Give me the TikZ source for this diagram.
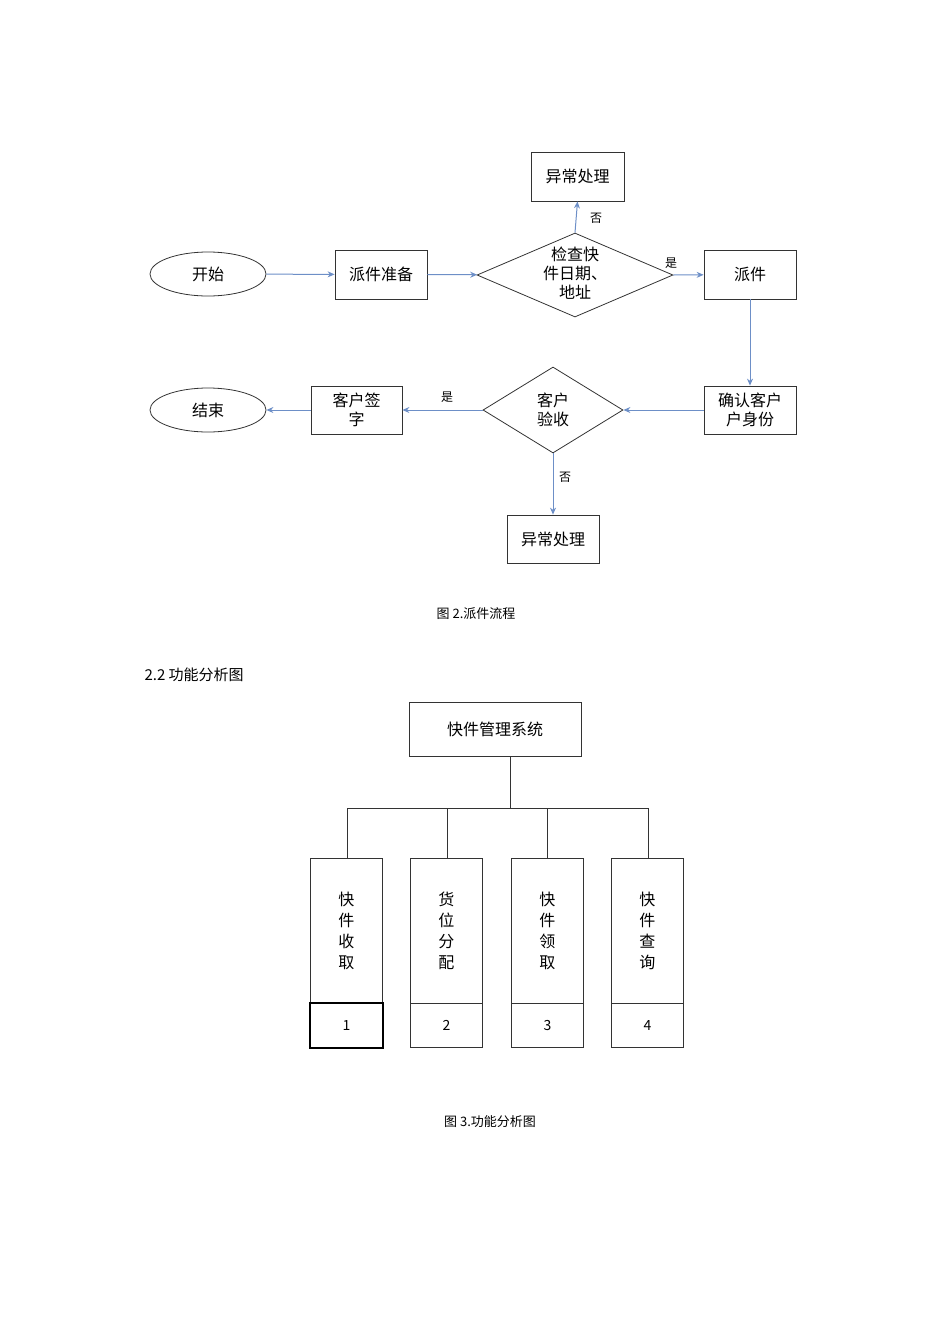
\documentclass[tikz,border=0pt]{standalone}
\usepackage{fontspec}
\setmainfont{Noto Sans CJK SC}
\usetikzlibrary{shapes.geometric,arrows.meta}
\definecolor{fl}{HTML}{6D8FC7}
\tikzset{
 box/.style={draw=black!80,line width=0.8pt,minimum width=92pt,minimum height=49pt,align=center,font=\fontsize{16}{19}\selectfont,inner sep=1pt},
 oval/.style={draw=black!80,line width=0.8pt,ellipse,minimum width=116pt,minimum height=44pt,font=\fontsize{16}{19}\selectfont},
 dia/.style={draw=black!80,line width=0.8pt,diamond,inner sep=0pt,align=center,font=\fontsize{16}{19}\selectfont},
 fa/.style={draw=fl,line width=1pt,-{Stealth[length=7pt,width=6pt]}},
 lab/.style={font=\fontsize{12}{14}\selectfont},
 tbox/.style={draw=black!80,line width=0.8pt,minimum width=72pt,minimum height=145pt,anchor=north west,font=\fontsize{16}{21}\selectfont,align=center},
 nbox/.style={draw=black!80,line width=0.8pt,minimum width=72pt,minimum height=44pt,anchor=north west,font=\fontsize{14}{16}\selectfont},
 ln/.style={draw=black!80,line width=0.8pt}
}
\begin{document}
\begin{tikzpicture}[x=1pt,y=-1pt]
\useasboundingbox (0,0) rectangle (950,1344);
\node[oval] (start) at (208,274) {开始};
\node[box] (prep) at (381,274.5) {派件准备};
\node[draw=black!80,line width=0.8pt,diamond,minimum width=196pt,minimum height=84pt,inner sep=0pt] (d1) at (575,275) {};
\node[align=center,font=\fontsize{16}{19}\selectfont] at (575,273) {检查快\\件日期、\\地址};
\node[box,minimum width=93pt] (ex1) at (577.5,176.5) {异常处理};
\node[box] (send) at (750,274.5) {派件};
\node[box,minimum height=48pt] (conf) at (750,410) {确认客户\\户身份};
\node[draw=black!80,line width=0.8pt,diamond,minimum width=140pt,minimum height=86pt,inner sep=0pt] (d2) at (553,410) {};
\node[align=center,font=\fontsize{16}{19}\selectfont] at (553,410) {客户\\验收};
\node[box,minimum width=91pt,minimum height=48pt] (sign) at (356.5,410) {客户签\\字};
\node[oval] (end) at (208,410) {结束};
\node[box,minimum height=48pt] (ex2) at (553,539) {异常处理};
\draw[fa] (start) -- (prep);
\draw[fa] (prep) -- (d1);
\draw[fa] (d1.north) -- (ex1.south);
\draw[fa] (d1.east) -- (send);
\draw[fa] (send) -- (conf);
\draw[fa] (conf) -- (d2.east);
\draw[fa] (d2.west) -- (sign);
\draw[fa] (sign) -- (end);
\draw[fa] (d2.south) -- (ex2);
\node[lab] at (596,218) {否};
\node[lab] at (671,263) {是};
\node[lab] at (447,397) {是};
\node[lab] at (565,477) {否};
\node[font=\fontsize{13}{15}\selectfont] (c1) at (476,614) {图 2.派件流程};
\node[font=\fontsize{15}{18}\selectfont,anchor=west] (h) at (141,675) {2.2 功能分析图};
\node[draw=black!80,line width=0.8pt,minimum width=172pt,minimum height=54pt,font=\fontsize{16}{19}\selectfont] (sys) at (495,729) {快件管理系统};
\coordinate (j) at (510,808);
\draw[ln] (510,756) -- (j);
\draw[ln] (347,808) -- (648,808);
\foreach \x/\dx/\t/\n [count=\i] in {310/347/{快\\件\\收\\取}/1,410/447/{货\\位\\分\\配}/2,511/547/{快\\件\\领\\取}/3,611/648/{快\\件\\查\\询}/4}{
  \node[tbox] (t\i) at (\x,858) {\t};
  \node[nbox] (n\i) at (\x,1003) {\n};
  \draw[ln] (\dx,808) -- (\dx,858);
}
\draw[black,line width=2pt] (n1.north west) rectangle (n1.south east);
\node[font=\fontsize{13}{15}\selectfont] (c2) at (490,1122) {图 3.功能分析图};
\end{tikzpicture}
\end{document}
